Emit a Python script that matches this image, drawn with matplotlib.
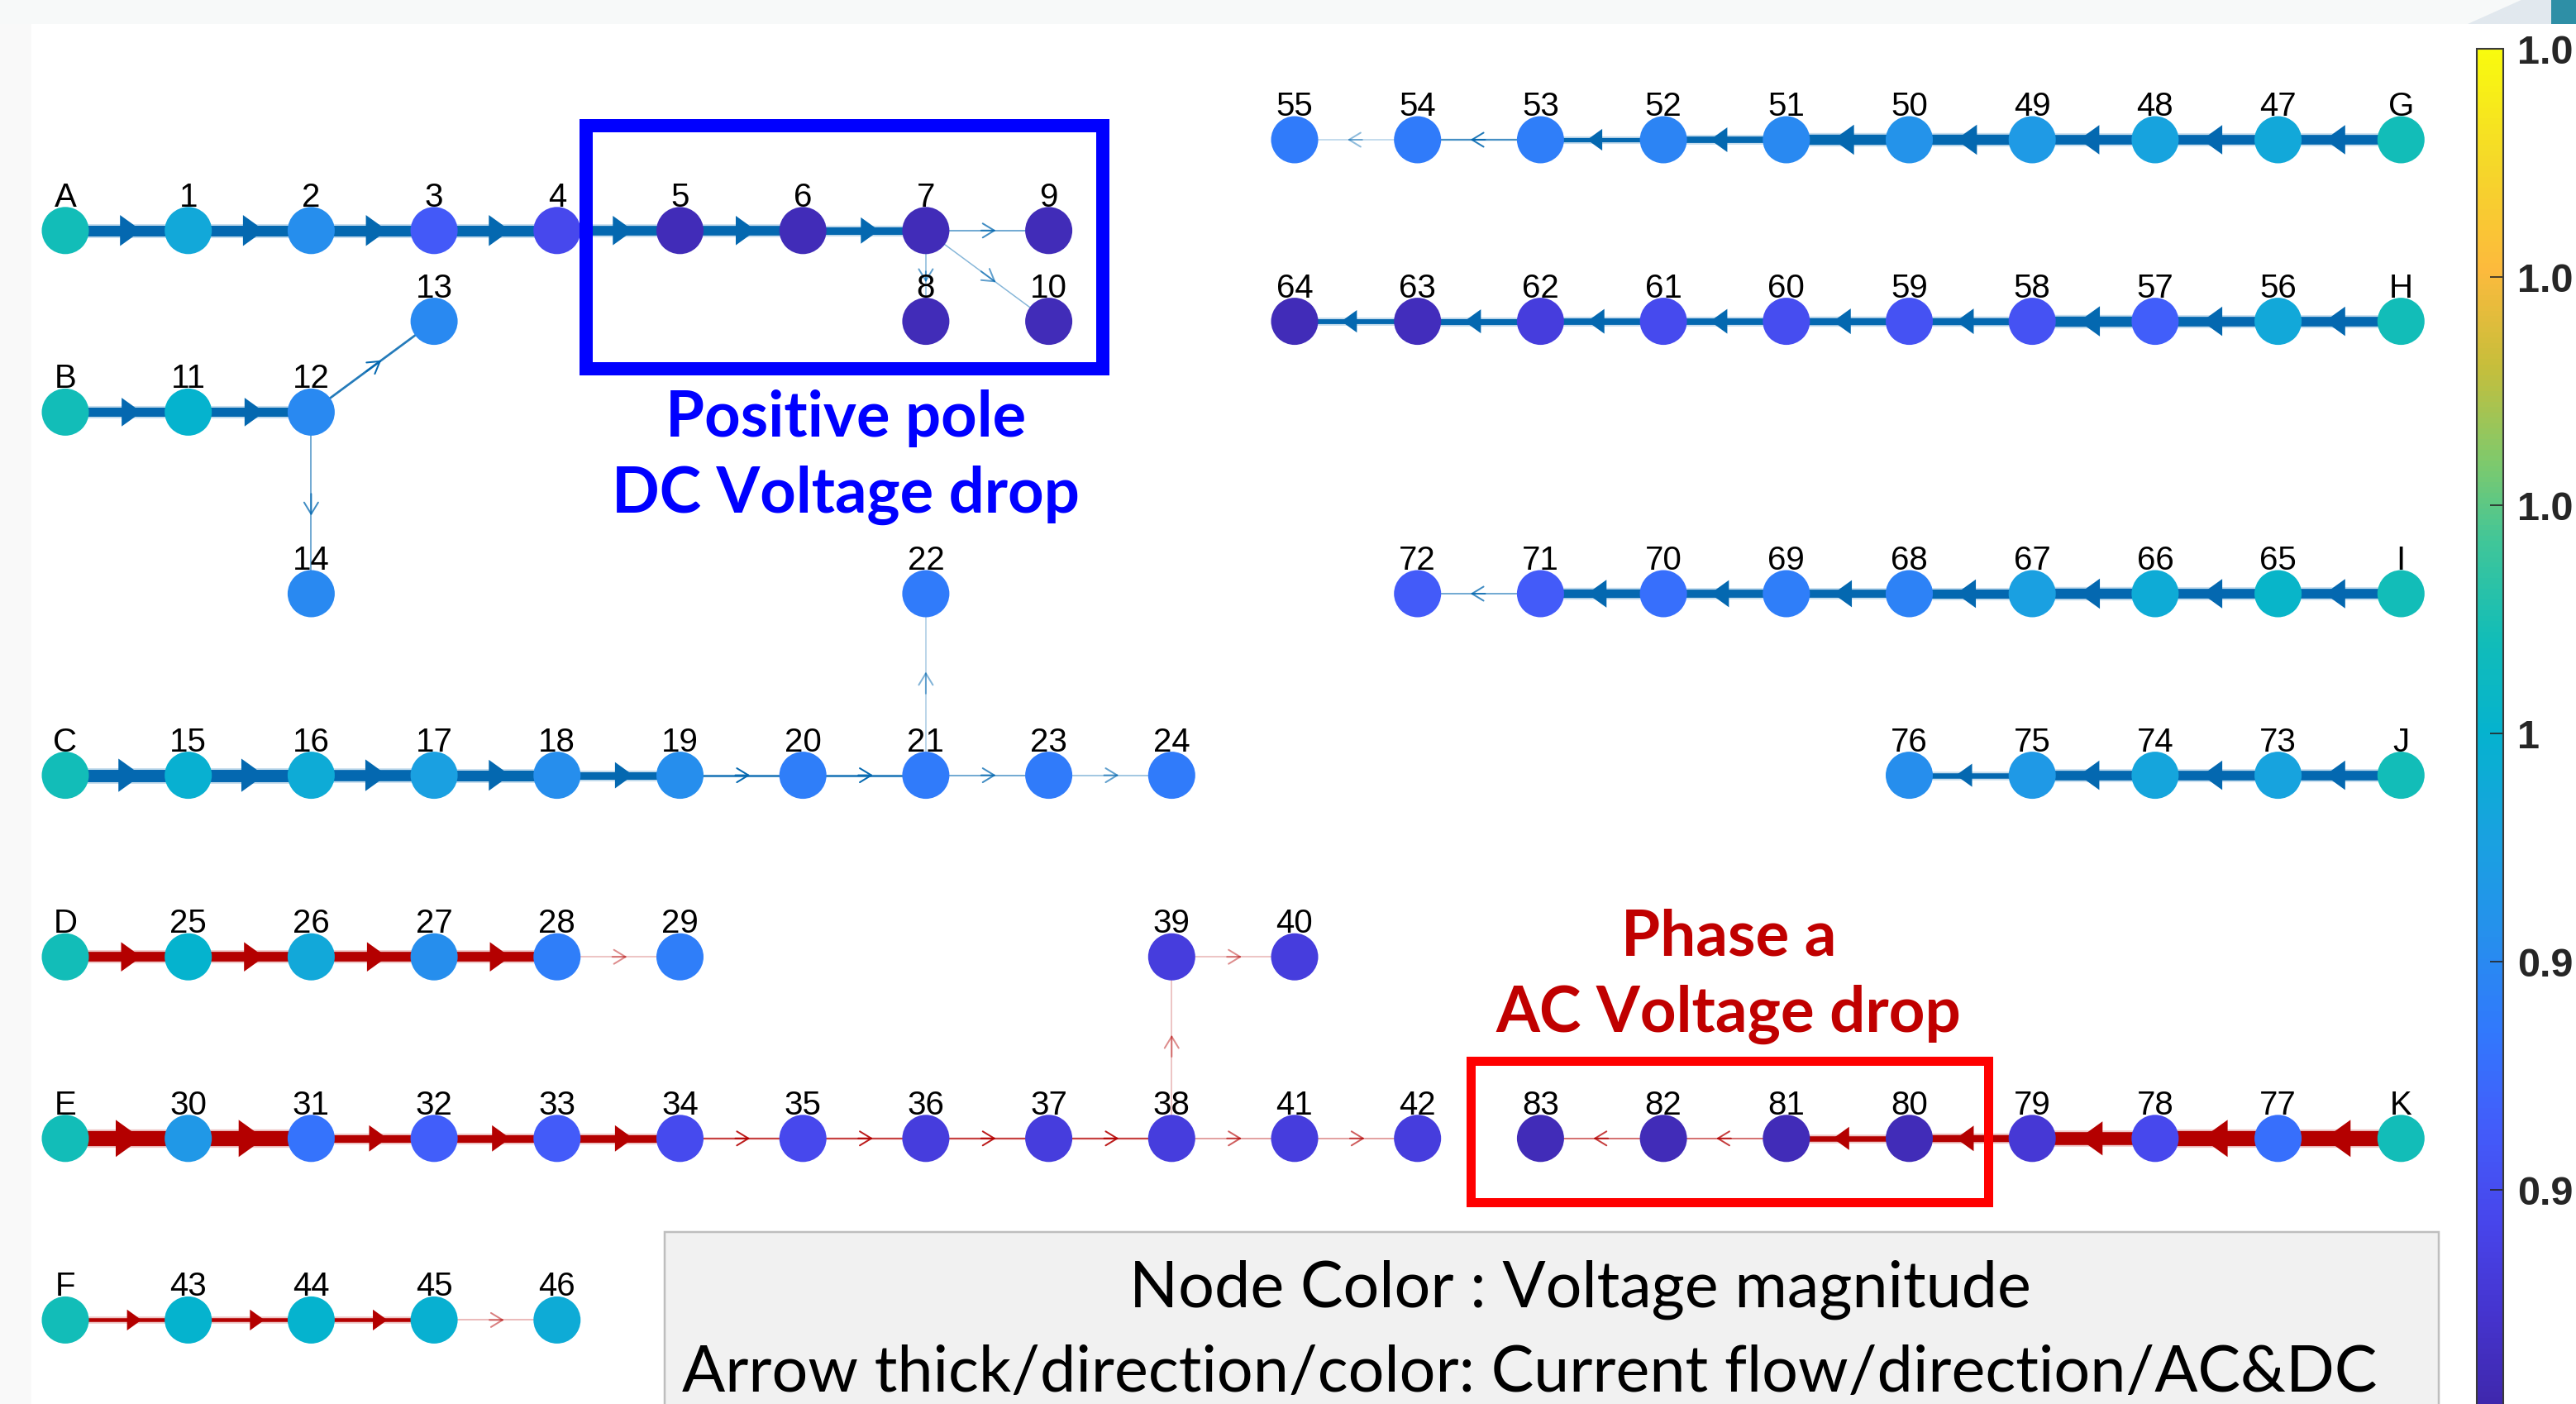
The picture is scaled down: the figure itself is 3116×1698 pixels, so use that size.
import matplotlib
matplotlib.use("Agg")
import matplotlib.pyplot as plt
from matplotlib.colors import LinearSegmentedColormap, Normalize
from matplotlib.patches import Rectangle, Polygon

W_PX, H_PX, DPI = 3116, 1699, 100
PT = 72 / DPI  # points per pixel

# ---- nodes: label, grid column, grid row, voltage magnitude (p.u.) ----
node_labels = [
    "A", "1", "2", "3", "4", "5", "6", "7", "9", "8", "10",
    "B", "11", "12", "13", "14",
    "C", "15", "16", "17", "18", "19", "20", "21", "23", "24", "22",
    "D", "25", "26", "27", "28", "29",
    "E", "30", "31", "32", "33", "34", "35", "36", "37", "38", "41", "42", "39", "40",
    "F", "43", "44", "45", "46",
    "G", "47", "48", "49", "50", "51", "52", "53", "54", "55",
    "H", "56", "57", "58", "59", "60", "61", "62", "63", "64",
    "I", "65", "66", "67", "68", "69", "70", "71", "72",
    "J", "73", "74", "75", "76",
    "K", "77", "78", "79", "80", "81", "82", "83",
]
node_cols = [
    0, 1, 2, 3, 4, 5, 6, 7, 8, 7, 8,
    0, 1, 2, 3, 2,
    0, 1, 2, 3, 4, 5, 6, 7, 8, 9, 7,
    0, 1, 2, 3, 4, 5,
    0, 1, 2, 3, 4, 5, 6, 7, 8, 9, 10, 11, 9, 10,
    0, 1, 2, 3, 4,
    19, 18, 17, 16, 15, 14, 13, 12, 11, 10,
    19, 18, 17, 16, 15, 14, 13, 12, 11, 10,
    19, 18, 17, 16, 15, 14, 13, 12, 11,
    19, 18, 17, 16, 15,
    19, 18, 17, 16, 15, 14, 13, 12,
]
node_rows = [
    1, 1, 1, 1, 1, 1, 1, 1, 1, 2, 2,
    3, 3, 3, 2, 5,
    7, 7, 7, 7, 7, 7, 7, 7, 7, 7, 5,
    9, 9, 9, 9, 9, 9,
    11, 11, 11, 11, 11, 11, 11, 11, 11, 11, 11, 11, 9, 9,
    13, 13, 13, 13, 13,
    0, 0, 0, 0, 0, 0, 0, 0, 0, 0,
    2, 2, 2, 2, 2, 2, 2, 2, 2, 2,
    5, 5, 5, 5, 5, 5, 5, 5, 5,
    7, 7, 7, 7, 7,
    11, 11, 11, 11, 11, 11, 11, 11,
]
node_voltage = [
    1.004, 0.997, 0.991, 0.982, 0.979, 0.972, 0.972, 0.972, 0.972, 0.972, 0.972,
    1.004, 1.000, 0.990, 0.990, 0.990,
    1.004, 0.9995, 0.998, 0.995, 0.991, 0.991, 0.988, 0.9875, 0.9875, 0.9875, 0.9875,
    1.004, 1.000, 0.997, 0.991, 0.988, 0.988,
    1.004, 0.993, 0.986, 0.983, 0.9826, 0.9795, 0.979, 0.9767, 0.9767, 0.9767,
    0.9767, 0.9767, 0.9767, 0.9767,
    1.004, 1.000, 1.000, 0.9995, 0.998,
    1.004, 0.997, 0.996, 0.9935, 0.992, 0.990, 0.989, 0.988, 0.9875, 0.9875,
    1.004, 0.997, 0.983, 0.981, 0.981, 0.980, 0.9796, 0.9767, 0.9724, 0.972,
    1.004, 1.001, 0.998, 0.995, 0.9886, 0.988, 0.9856, 0.9826, 0.9826,
    1.004, 0.996, 0.9964, 0.9934, 0.991,
    1.004, 0.9855, 0.979, 0.9755, 0.972, 0.972, 0.972, 0.972,
]

# ---- branches: (from, to, current in arbitrary units) ----
dc_edges = [
    ("A", "1", 1.0), ("1", "2", 1.0), ("2", "3", 1.0), ("3", "4", 1.0), ("4", "5", 0.9),
    ("5", "6", 0.9), ("6", "7", 0.7), ("7", "9", 0.2), ("7", "8", 0.15), ("7", "10", 0.15),
    ("B", "11", 0.85), ("11", "12", 0.85), ("12", "13", 0.3), ("12", "14", 0.2),
    ("C", "15", 1.15), ("15", "16", 1.15), ("16", "17", 1.05), ("17", "18", 1.0),
    ("18", "19", 0.7), ("19", "20", 0.3), ("20", "21", 0.3), ("21", "23", 0.2),
    ("23", "24", 0.15), ("21", "22", 0.1),
    ("G", "47", 0.9), ("47", "48", 0.9), ("48", "49", 0.9), ("49", "50", 0.95),
    ("50", "51", 0.95), ("51", "52", 0.6), ("52", "53", 0.4), ("53", "54", 0.25), ("54", "55", 0.08),
    ("H", "56", 0.9), ("56", "57", 0.9), ("57", "58", 0.95), ("58", "59", 0.65), ("59", "60", 0.65),
    ("60", "61", 0.6), ("61", "62", 0.6), ("62", "63", 0.55), ("63", "64", 0.45),
    ("I", "65", 0.9), ("65", "66", 0.9), ("66", "67", 0.95), ("67", "68", 0.85),
    ("68", "69", 0.75), ("69", "70", 0.75), ("70", "71", 0.8), ("71", "72", 0.2),
    ("J", "73", 0.9), ("73", "74", 0.9), ("74", "75", 0.9), ("75", "76", 0.5),
]
ac_edges = [
    ("D", "25", 0.9), ("25", "26", 0.9), ("26", "27", 0.9), ("27", "28", 0.9), ("28", "29", 0.08),
    ("E", "30", 1.4), ("30", "31", 1.4), ("31", "32", 0.7), ("32", "33", 0.7), ("33", "34", 0.7),
    ("34", "35", 0.25), ("35", "36", 0.25), ("36", "37", 0.25), ("37", "38", 0.25),
    ("38", "41", 0.15), ("41", "42", 0.15), ("38", "39", 0.08), ("39", "40", 0.08),
    ("F", "43", 0.35), ("43", "44", 0.35), ("44", "45", 0.35), ("45", "46", 0.1),
    ("K", "77", 1.4), ("77", "78", 1.4), ("78", "79", 1.2), ("79", "80", 0.65),
    ("80", "81", 0.5), ("81", "82", 0.2), ("82", "83", 0.2),
]

# colorbar ticks; labels as they show on the (cropped) slide
cbar_ticks = [0.97, 0.98, 0.99, 1.00, 1.01, 1.02, 1.03]
cbar_ticklabels = ["", "0.9", "0.9", "1", "1.0", "1.0", "1.0"]

# parula-like colormap
parula = LinearSegmentedColormap.from_list("parula", [
    (0.00, (0.243, 0.150, 0.660)),
    (0.07, (0.270, 0.200, 0.800)),
    (0.14, (0.280, 0.270, 0.920)),
    (0.21, (0.262, 0.360, 0.980)),
    (0.28, (0.195, 0.470, 0.990)),
    (0.35, (0.150, 0.560, 0.930)),
    (0.42, (0.100, 0.630, 0.880)),
    (0.50, (0.020, 0.700, 0.810)),
    (0.57, (0.070, 0.740, 0.720)),
    (0.64, (0.250, 0.775, 0.600)),
    (0.70, (0.500, 0.790, 0.420)),
    (0.77, (0.780, 0.745, 0.230)),
    (0.84, (0.990, 0.730, 0.240)),
    (0.92, (0.960, 0.850, 0.160)),
    (1.00, (0.977, 0.983, 0.054)),
])
norm = Normalize(vmin=0.97, vmax=1.03)

DC_COLOR = "#0468B0"
AC_COLOR = "#B40000"

fig = plt.figure(figsize=(W_PX / DPI, H_PX / DPI), dpi=DPI)
fig.patch.set_facecolor("white")

# slide background bits
fig.add_artist(Rectangle((0, 1 - 30 / H_PX), 1, 30 / H_PX, transform=fig.transFigure,
                         fc="#F7F9F9", ec="none", zorder=-2))
fig.add_artist(Rectangle((0, 0), 38 / W_PX, 1 - 30 / H_PX, transform=fig.transFigure,
                         fc="#F9F9F9", ec="none", zorder=-2))
fig.add_artist(Polygon([(2985 / W_PX, 1 - 30 / H_PX), (3052 / W_PX, 1), (3086 / W_PX, 1),
                        (3086 / W_PX, 1 - 30 / H_PX)], closed=True, transform=fig.transFigure,
                       fc="#E1E8EE", ec="none", zorder=-1))
fig.add_artist(Rectangle((3086 / W_PX, 1 - 30 / H_PX), 30 / W_PX, 30 / H_PX,
                         transform=fig.transFigure, fc="#2E8FA6", ec="none", zorder=-1))

# main graph axes: one grid column = 148.7 px, one grid row = 109.8 px
ax = fig.add_axes([0, 0, 1, 1])
ax.set_xlim(-79 / 148.7, (W_PX - 79) / 148.7)
ax.set_ylim((H_PX - 170) / 109.8, -170 / 109.8)
ax.axis("off")

pos = {n: (c, r) for n, c, r in zip(node_labels, node_cols, node_rows)}


def draw_edge(a, b, cur, color):
    (x0, y0), (x1, y1) = pos[a], pos[b]
    w = 10 * cur  # visual line width in pixels
    if w >= 3.5:
        ax.plot([x0, x1], [y0, y1], color=color, lw=(1.3 * w + 4) * PT, alpha=0.22,
                solid_capstyle="butt", zorder=1)
        ax.plot([x0, x1], [y0, y1], color=color, lw=1.3 * w * PT,
                solid_capstyle="butt", zorder=2)
        hl = 13 + 1.3 * w
        tip = (x0 + 0.62 * (x1 - x0), y0 + 0.62 * (y1 - y0))
        tail = (x0 + 0.3 * (x1 - x0), y0 + 0.3 * (y1 - y0))
        ax.annotate("", xy=tip, xytext=tail, zorder=2,
                    arrowprops=dict(arrowstyle=f"-|>,head_length={hl * PT},head_width={0.72 * hl * PT}",
                                    mutation_scale=1, lw=0, color=color, shrinkA=0, shrinkB=0))
    else:
        alpha = min(1.0, 0.3 + 0.7 * (w - 0.8) / 2.7)
        ax.plot([x0, x1], [y0, y1], color=color, lw=max(w * 0.9, 1.5) * PT, alpha=alpha,
                solid_capstyle="butt", zorder=1)
        tip = (x0 + 0.57 * (x1 - x0), y0 + 0.57 * (y1 - y0))
        tail = (x0 + 0.45 * (x1 - x0), y0 + 0.45 * (y1 - y0))
        ax.annotate("", xy=tip, xytext=tail, zorder=2,
                    arrowprops=dict(arrowstyle=f"->,head_length={14 * PT},head_width={8.5 * PT}",
                                    mutation_scale=1, lw=2.0 * PT, color=color,
                                    alpha=min(1.0, alpha + 0.15), shrinkA=0, shrinkB=0))


for a, b, cur in dc_edges:
    draw_edge(a, b, cur, DC_COLOR)
for a, b, cur in ac_edges:
    draw_edge(a, b, cur, AC_COLOR)

sc = ax.scatter(node_cols, node_rows, c=node_voltage, cmap=parula, norm=norm,
                s=(57 * PT) ** 2, edgecolors="none", zorder=3)

for lab, c, r in zip(node_labels, node_cols, node_rows):
    ax.annotate(lab, (c, r), xytext=(0, 30 * PT), textcoords="offset points",
                ha="center", va="baseline", fontsize=29, family="Liberation Sans",
                color="black", zorder=4)

# highlight boxes
ax.add_patch(Rectangle((4.24, -0.155), 4.20, 2.675, fill=False, ec="#0000FF",
                       lw=16 * PT, joinstyle="miter", zorder=5))
ax.add_patch(Rectangle((11.43, 10.15), 4.21, 1.55, fill=False, ec="#FF0000",
                       lw=11 * PT, joinstyle="miter", zorder=5))

font_callout = ["Lato", "DejaVu Sans"]
blue_txt = [
    ax.text(6.35, 3.26, "Positive pole", color="#0000FF", fontsize=50, fontweight="bold",
            family=font_callout, ha="center", va="baseline", zorder=6),
    ax.text(6.35, 4.10, "DC Voltage drop", color="#0000FF", fontsize=50, fontweight="bold",
            family=font_callout, ha="center", va="baseline", zorder=6),
]
red_txt = [
    ax.text(13.53, 8.976, "Phase a", color="#C00000", fontsize=50, fontweight="bold",
            family=font_callout, ha="center", va="baseline", zorder=6),
    ax.text(13.53, 9.818, "AC Voltage drop", color="#C00000", fontsize=50, fontweight="bold",
            family=font_callout, ha="center", va="baseline", zorder=6),
]

# note box
ax.add_patch(Rectangle((4.876, 12.03), 14.43, 3.0, fc="#F1F1F1", ec="#BEBEBE",
                       lw=2.5 * PT, zorder=5))
note_txt = [
    ax.text(12.32, 12.85, "Node Color : Voltage magnitude", fontsize=50, family=font_callout,
            ha="center", va="baseline", color="black", zorder=6),
    ax.text(5.017, 13.78, "Arrow thick/direction/color: Current flow/direction/AC&DC", fontsize=50,
            family=font_callout, ha="left", va="baseline", color="black", zorder=6),
]

# colorbar (runs off the bottom of the slide)
cax = fig.add_axes([2996 / W_PX, 1 - 1716 / H_PX, 32 / W_PX, (1716 - 60) / H_PX])
cb = fig.colorbar(sc, cax=cax, ticks=cbar_ticks)
cb.set_ticklabels(cbar_ticklabels)
cax.tick_params(direction="in", length=16 * PT, width=1.2, colors="#262626", labelsize=35, pad=12)
for t in cax.get_yticklabels():
    t.set_fontweight("bold")
    t.set_family("Liberation Sans")
cb.outline.set_edgecolor("#3A3A3A")
cb.outline.set_linewidth(1.5)


# scale the callout fonts so their widths match the slide
renderer = fig.canvas.get_renderer()


def fit(texts, width_px):
    w = max(t.get_window_extent(renderer).width for t in texts)
    for t in texts:
        t.set_fontsize(t.get_fontsize() * width_px / w)


fit(blue_txt, 567)
fit(red_txt, 564)
fit(note_txt, 2048)

fig.savefig("out.png", dpi=DPI)
